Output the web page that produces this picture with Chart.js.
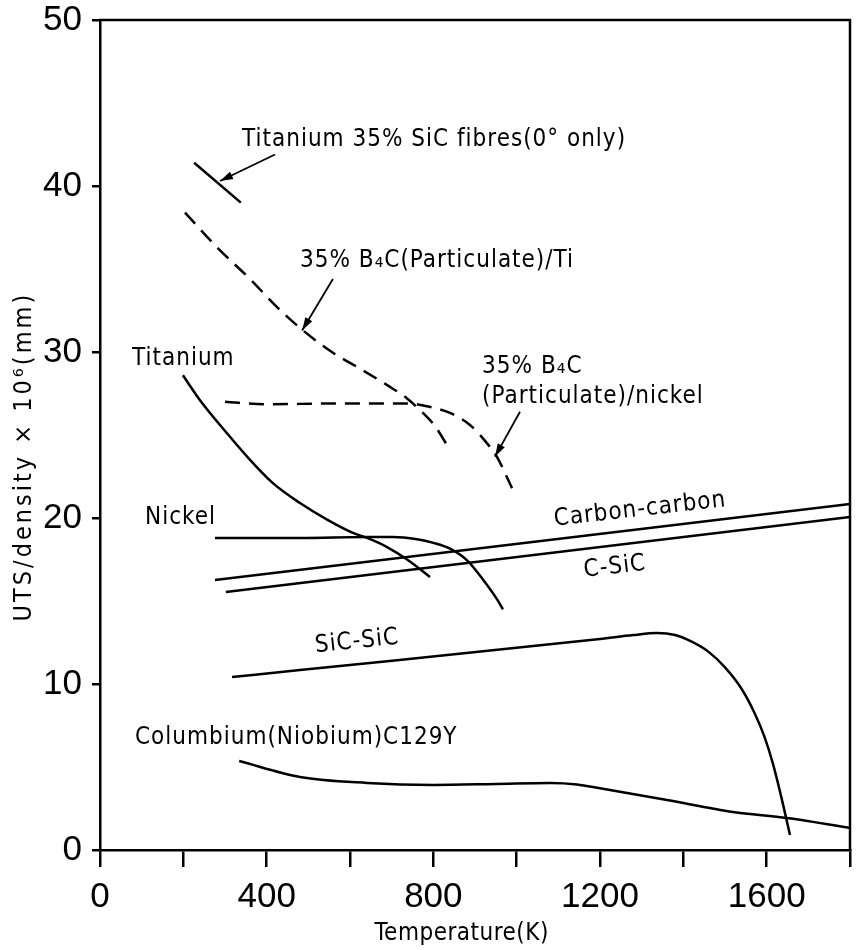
<!DOCTYPE html>
<html><head><meta charset="utf-8">
<script src="https://cdn.jsdelivr.net/npm/chart.js@4.4.1/dist/chart.umd.min.js"></script>
<style>html,body{margin:0;padding:0;background:#fff;}#wrap{width:858px;height:950px;}</style>
</head><body><div id="wrap"><canvas id="c" width="858" height="950"></canvas></div>
<script>
// ---- data ----
const xTickValues = [0, 200, 400, 600, 800, 1000, 1200, 1400, 1600, 1800];
const xTickLabels = ['0', '', '400', '', '800', '', '1200', '', '1600', ''];
const yTickLabels = ['0', '10', '20', '30', '40', '50'];

const tiSicFibreX = [226, 338];
const tiSicFibreY = [41.4, 39.0];

const b4cTiX = [204, 281, 360, 425, 480, 559, 617, 696, 737, 770, 805, 835];
const b4cTiY = [38.4, 36.3, 34.4, 32.7, 31.45, 29.95, 29.1, 27.9, 27.2, 26.45, 25.5, 24.3];

const b4cNiX = [300, 400, 560, 737, 792, 840, 888, 936, 953, 989];
const b4cNiY = [27.0, 26.85, 26.9, 26.9, 26.69, 26.33, 25.6, 24.28, 23.67, 21.8];

const titaniumX = [199, 240, 305, 353, 415, 480, 545, 607, 641, 689, 737, 792];
const titaniumY = [28.6, 27.1, 25.1, 23.7, 22.1, 20.9, 19.9, 19.1, 18.8, 18.25, 17.5, 16.45];

const nickelX = [276, 480, 641, 703, 761, 800, 840, 881, 919, 953, 967];
const nickelY = [18.8, 18.8, 18.86, 18.86, 18.72, 18.5, 18.15, 17.45, 16.3, 15.1, 14.5];

const carbonCarbonX = [276, 1800];
const carbonCarbonY = [16.27, 20.84];

const cSicX = [302, 1800];
const cSicY = [15.54, 20.06];

const sicSicX = [317, 480, 1200, 1280, 1337, 1380, 1420, 1460, 1500, 1540, 1570, 1595, 1615, 1635, 1656];
const sicSicY = [10.42, 10.84, 12.71, 12.95, 13.07, 12.95, 12.55, 11.95, 11.0, 9.7, 8.3, 6.8, 5.2, 3.2, 0.9];

const columbiumX = [334, 480, 641, 799, 950, 1080, 1145, 1200, 1361, 1519, 1649, 1800];
const columbiumY = [5.36, 4.4, 4.04, 3.92, 3.98, 4.04, 3.95, 3.72, 3.01, 2.29, 1.93, 1.33];

const seriesNames = ['Titanium 35% SiC fibres(0° only)', '35% B₄C(Particulate)/Ti',
  '35% B₄C(Particulate)/nickel', 'Titanium', 'Nickel', 'Carbon-carbon', 'C-SiC', 'SiC-SiC',
  'Columbium(Niobium)C129Y'];

const xTitle = 'Temperature(K)';
const yTitle = 'UTS/density × 10⁶(mm)';

// ---- annotation placement (data coordinates) ----
const labelDefs = [
  {text: 'Titanium 35% SiC fibres(0° only)', x: 341, y: 42.8, align: 'left', rot: 0},
  {text: '35% B₄C(Particulate)/Ti', x: 480, y: 35.5, align: 'left', rot: 0},
  {text: 'Titanium', x: 77, y: 29.6, align: 'left', rot: 0},
  {text: '35% B₄C', x: 917, y: 29.1, align: 'left', rot: 0},
  {text: '(Particulate)/nickel', x: 917, y: 27.3, align: 'left', rot: 0},
  {text: 'Nickel', x: 108, y: 20.0, align: 'left', rot: 0},
  {text: 'Carbon-carbon', x: 1296, y: 20.5, align: 'center', rot: -6.5},
  {text: 'C-SiC', x: 1236, y: 17.05, align: 'center', rot: -6.5},
  {text: 'SiC-SiC', x: 617, y: 12.55, align: 'center', rot: -6},
  {text: 'Columbium(Niobium)C129Y', x: 84, y: 6.75, align: 'left', rot: 0}
];
const arrowDefs = [
  {from: [420, 41.9], to: [288, 40.3]},
  {from: [559, 34.4], to: [485, 31.3]},
  {from: [1008, 26.4], to: [948, 23.7]}
];

const FONT = '"DejaVu Sans Condensed", "Liberation Sans", "Noto Sans", sans-serif';
const TICKFONT = '"Liberation Sans", "DejaVu Sans Condensed", sans-serif';

function mk(label, xs, ys, opts) {
  return Object.assign({
    label: label,
    data: xs.map((x, i) => ({x: x, y: ys[i]})),
    showLine: true, pointRadius: 0, borderColor: '#000', borderWidth: 2.5,
    backgroundColor: '#000', fill: false, tension: 0
  }, opts || {});
}
const curve = {cubicInterpolationMode: 'monotone'};
const dashed = {cubicInterpolationMode: 'monotone', borderDash: [15, 9]};

const datasets = [
  mk(seriesNames[0], tiSicFibreX, tiSicFibreY),
  mk(seriesNames[1], b4cTiX, b4cTiY, dashed),
  mk(seriesNames[2], b4cNiX, b4cNiY, dashed),
  mk(seriesNames[3], titaniumX, titaniumY, curve),
  mk(seriesNames[4], nickelX, nickelY, curve),
  mk(seriesNames[5], carbonCarbonX, carbonCarbonY),
  mk(seriesNames[6], cSicX, cSicY),
  mk(seriesNames[7], sicSicX, sicSicY, curve),
  mk(seriesNames[8], columbiumX, columbiumY, curve)
];

const decorPlugin = {
  id: 'decor',
  afterDraw(chart) {
    const ctx = chart.ctx, xs = chart.scales.x, ys = chart.scales.y, a = chart.chartArea;
    ctx.save();
    // frame top & right
    ctx.strokeStyle = '#000'; ctx.lineWidth = 2.5; ctx.lineCap = 'square';
    ctx.beginPath(); ctx.moveTo(a.left, a.top); ctx.lineTo(a.right, a.top); ctx.lineTo(a.right, a.bottom); ctx.stroke();
    // labels
    ctx.fillStyle = '#000';
    ctx.font = '24px ' + FONT;
    if ('letterSpacing' in ctx) ctx.letterSpacing = '1px';
    ctx.textBaseline = 'middle';
    labelDefs.forEach(l => {
      ctx.save();
      ctx.translate(xs.getPixelForValue(l.x), ys.getPixelForValue(l.y));
      ctx.rotate(l.rot * Math.PI / 180);
      ctx.textAlign = l.align;
      ctx.fillText(l.text, 0, 0);
      ctx.restore();
    });
    // arrows
    ctx.lineWidth = 1.8; ctx.lineCap = 'butt';
    arrowDefs.forEach(ar => {
      const x1 = xs.getPixelForValue(ar.from[0]), y1 = ys.getPixelForValue(ar.from[1]);
      const x2 = xs.getPixelForValue(ar.to[0]), y2 = ys.getPixelForValue(ar.to[1]);
      const ang = Math.atan2(y2 - y1, x2 - x1);
      ctx.beginPath(); ctx.moveTo(x1, y1); ctx.lineTo(x2, y2); ctx.stroke();
      const L = 13, W = 4;
      ctx.beginPath();
      ctx.moveTo(x2, y2);
      ctx.lineTo(x2 - L * Math.cos(ang) + W * Math.sin(ang), y2 - L * Math.sin(ang) - W * Math.cos(ang));
      ctx.lineTo(x2 - L * Math.cos(ang) - W * Math.sin(ang), y2 - L * Math.sin(ang) + W * Math.cos(ang));
      ctx.closePath(); ctx.fill();
    });
    // axis titles
    ctx.font = '24px ' + FONT;
    if ('letterSpacing' in ctx) ctx.letterSpacing = '0.5px';
    ctx.textAlign = 'center';
    ctx.fillText(xTitle, xs.getPixelForValue(868), 934);
    ctx.save();
    ctx.translate(24, ys.getPixelForValue(23.7));
    ctx.rotate(-Math.PI / 2);
    ctx.font = '25px ' + FONT;
    if ('letterSpacing' in ctx) ctx.letterSpacing = '3px';
    ctx.fillText(yTitle, 0, 0);
    ctx.restore();
    ctx.restore();
  }
};

new Chart(document.getElementById('c'), {
  type: 'scatter',
  data: {datasets: datasets},
  options: {
    responsive: false, animation: false, devicePixelRatio: 1,
    layout: {padding: {top: 20, right: 8, left: 0, bottom: 0}},
    plugins: {legend: {display: false}, tooltip: {enabled: false}},
    scales: {
      x: {
        type: 'linear', min: 0, max: 1800,
        afterBuildTicks: s => { s.ticks = xTickValues.map(v => ({value: v})); },
        afterFit: s => { s.height = 100; s.paddingLeft = 0; s.paddingRight = 0; },
        ticks: {
          autoSkip: false, maxRotation: 0, padding: 9, color: '#000',
          font: {family: TICKFONT, size: 35},
          callback: (v) => { const i = xTickValues.indexOf(v); return i >= 0 ? xTickLabels[i] : ''; }
        },
        grid: {drawOnChartArea: false, drawTicks: true, tickLength: 17, color: '#000', lineWidth: 2.5},
        border: {display: true, color: '#000', width: 2.5}
      },
      y: {
        type: 'linear', min: 0, max: 50,
        afterBuildTicks: s => { s.ticks = yTickLabels.map(t => ({value: Number(t)})); },
        afterFit: s => { s.width = 100; s.paddingTop = 0; s.paddingBottom = 0; },
        ticks: {
          padding: 10, color: '#000', font: {family: TICKFONT, size: 35},
          callback: (v) => yTickLabels[yTickLabels.indexOf(String(v))]
        },
        grid: {drawOnChartArea: false, drawTicks: true, tickLength: 8, color: '#000', lineWidth: 2.5},
        border: {display: true, color: '#000', width: 2.5}
      }
    }
  },
  plugins: [decorPlugin]
});
</script></body></html>
